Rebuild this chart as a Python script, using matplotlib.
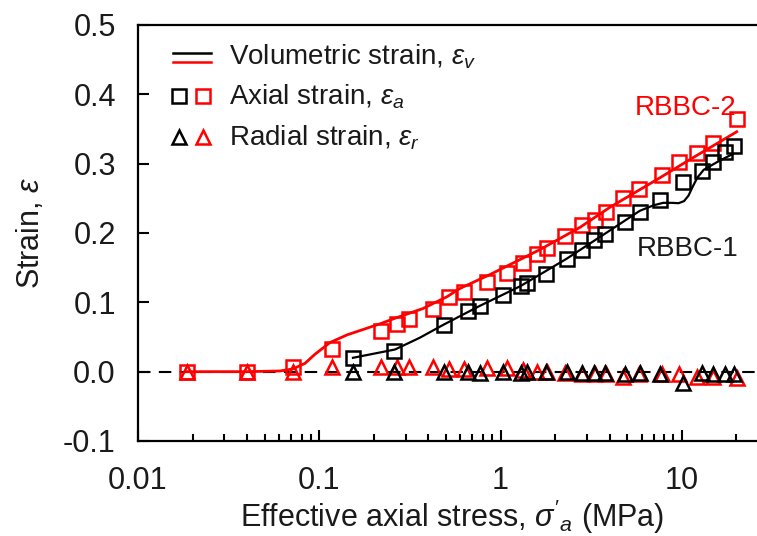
import matplotlib
matplotlib.use('Agg')
from matplotlib import pyplot as plt
from matplotlib.lines import Line2D
from matplotlib.ticker import FuncFormatter, LogLocator, MultipleLocator

plt.rcParams['font.family'] = ['Liberation Sans', 'DejaVu Sans']
plt.rcParams['mathtext.fontset'] = 'custom'
plt.rcParams['mathtext.rm'] = 'Liberation Sans'
plt.rcParams['mathtext.it'] = 'Liberation Sans:italic'
plt.rcParams['axes.unicode_minus'] = False

# RBBC-2 (red): axial and radial strain points
stress_2 = [0.0186, 0.0399, 0.0716, 0.1175, 0.219, 0.268, 0.312, 0.424, 0.519,
            0.628, 0.841, 1.085, 1.329, 1.588, 1.803, 2.266, 2.81, 3.317, 3.814,
            4.73, 5.80, 7.77, 9.64, 12.1, 14.8, 20.1]
axial_2 = [0.0, 0.0, 0.007, 0.033, 0.059, 0.069, 0.076, 0.091, 0.108, 0.115,
           0.130, 0.143, 0.157, 0.169, 0.179, 0.195, 0.212, 0.219, 0.231, 0.251,
           0.263, 0.283, 0.302, 0.316, 0.330, 0.365]
radial_2 = [0.0, 0.0, 0.0, 0.007, 0.007, 0.007, 0.007, 0.007, 0.004, 0.004,
            0.006, 0.006, 0.003, 0.0, -0.001, -0.002, -0.004, -0.003, -0.003,
            -0.007, -0.003, -0.004, -0.004, -0.007, -0.007, -0.009]

# RBBC-1 (black): axial and radial strain points
stress_1 = [0.1535, 0.258, 0.487, 0.661, 0.770, 1.031, 1.296, 1.398, 1.78, 2.32,
            2.81, 3.27, 3.77, 4.85, 5.87, 7.57, 10.1, 12.9, 14.8, 17.3, 19.4]
axial_1 = [0.020, 0.030, 0.068, 0.087, 0.095, 0.111, 0.124, 0.128, 0.141, 0.163,
           0.176, 0.190, 0.199, 0.216, 0.231, 0.248, 0.274, 0.289, 0.303, 0.317,
           0.326]
radial_1 = [0.0, 0.0, 0.0, -0.001, -0.002, -0.001, -0.002, -0.001, -0.001, -0.001,
            -0.002, -0.002, -0.002, -0.004, -0.002, -0.003, -0.016, -0.002, -0.003,
            -0.003, -0.003]

# volumetric strain curves
vol_x_2 = [0.0186, 0.0399, 0.0607, 0.0716, 0.0834, 0.0946, 0.1146, 0.1422, 0.2163,
           0.268, 0.373, 0.506, 0.597, 0.874, 1.65, 2.74, 4.01, 7.29, 11.1, 20.1]
vol_y_2 = [0.0, 0.0, 0.001, 0.004, 0.012, 0.025, 0.042, 0.053, 0.069, 0.078,
           0.091, 0.108, 0.120, 0.140, 0.176, 0.208, 0.237, 0.277, 0.306, 0.346]
vol_x_1 = [0.1535, 0.262, 0.359, 0.487, 0.770, 1.28, 2.32, 3.77, 5.87, 7.0,
           7.9, 8.8, 9.6, 10.3, 10.9, 11.5, 12.2, 13.2, 15.6, 19.1]
vol_y_1 = [0.020, 0.032, 0.049, 0.068, 0.095, 0.123, 0.163, 0.199, 0.232, 0.240,
           0.2435, 0.2435, 0.243, 0.246, 0.254, 0.267, 0.280, 0.291, 0.302, 0.314]

red = '#ff0000'
blk = '#000000'
txt = '#1a1a1a'

fig = plt.figure(figsize=(7.57, 5.36), dpi=100)
ax = fig.add_axes([138/757, 95/536, 725/757, 416/536])

ax.axhline(0, color=blk, lw=1.5, ls=(0, (6, 4)), zorder=1)

ax.plot(vol_x_2, vol_y_2, color=red, lw=2, zorder=2)
ax.plot(vol_x_1, vol_y_1, color=blk, lw=1.6, zorder=2)

sq = dict(marker='s', ms=10.5, mfc='none', mew=1.8, ls='none', zorder=3)
tri = dict(marker='^', ms=10, mfc='none', mew=1.8, ls='none', zorder=3)
ax.plot(stress_2, axial_2, mec=red, **sq)
ax.plot(stress_2, radial_2, mec=red, **tri)
ax.plot(stress_1, axial_1, mec=blk, **sq)
ax.plot(stress_1, radial_1, mec=blk, **tri)

ax.text(0.755, 0.784, 'RBBC-2', transform=ax.transAxes, color=red, fontsize=20,
        ha='center', va='baseline')
ax.text(0.758, 0.445, 'RBBC-1', transform=ax.transAxes, color=txt, fontsize=20,
        ha='center', va='baseline')

# legend drawn by hand
lt = ax.transAxes
ax.add_line(Line2D([0.048, 0.1], [0.933, 0.933], color=blk, lw=1.8, transform=lt))
ax.add_line(Line2D([0.048, 0.1], [0.910, 0.910], color=red, lw=1.8, transform=lt))
ax.add_line(Line2D([0.0566], [0.829], color=blk, mec=blk, transform=lt, **sq))
ax.add_line(Line2D([0.0897], [0.829], color=red, mec=red, transform=lt, **sq))
ax.add_line(Line2D([0.0566], [0.731], color=blk, mec=blk, transform=lt, **tri))
ax.add_line(Line2D([0.0897], [0.731], color=red, mec=red, transform=lt, **tri))
ax.text(0.1255, 0.904, r'Volumetric strain, $\varepsilon_v$', transform=lt,
        fontsize=20, va='baseline', color=txt)
ax.text(0.1255, 0.808, r'Axial strain, $\varepsilon_a$', transform=lt,
        fontsize=20, va='baseline', color=txt)
ax.text(0.1255, 0.7115, r'Radial strain, $\varepsilon_r$', transform=lt,
        fontsize=20, va='baseline', color=txt)

ax.set_xscale('log')
ax.set_xlim(0.01, 100)
ax.set_ylim(-0.1, 0.5)
ax.yaxis.set_major_locator(MultipleLocator(0.1))
ax.yaxis.set_major_formatter(FuncFormatter(lambda v, p: f'{v:.1f}'))
ax.xaxis.set_major_locator(LogLocator(base=10))
ax.xaxis.set_minor_locator(LogLocator(base=10, subs=range(2, 10)))
ax.xaxis.set_major_formatter(FuncFormatter(lambda v, p: f'{v:g}' if v < 50 else ''))
ax.tick_params(which='major', direction='in', length=8, width=1.5, labelsize=22,
               pad=16, labelcolor=txt)
ax.tick_params(axis='x', which='major', pad=18)
ax.tick_params(which='minor', direction='in', length=5, width=1.5)
ax.tick_params(axis='y', which='minor', left=False)
for s in ax.spines.values():
    s.set_linewidth(1.6)

ax.set_xlabel(r"Effective axial stress, $\sigma'_a$ (MPa)", fontsize=22, color=txt)
ax.xaxis.set_label_coords(0.433, -0.136)
ax.set_ylabel(r'Strain, $\varepsilon$', fontsize=22, labelpad=12, color=txt)

fig.savefig('out.png', dpi=100)
